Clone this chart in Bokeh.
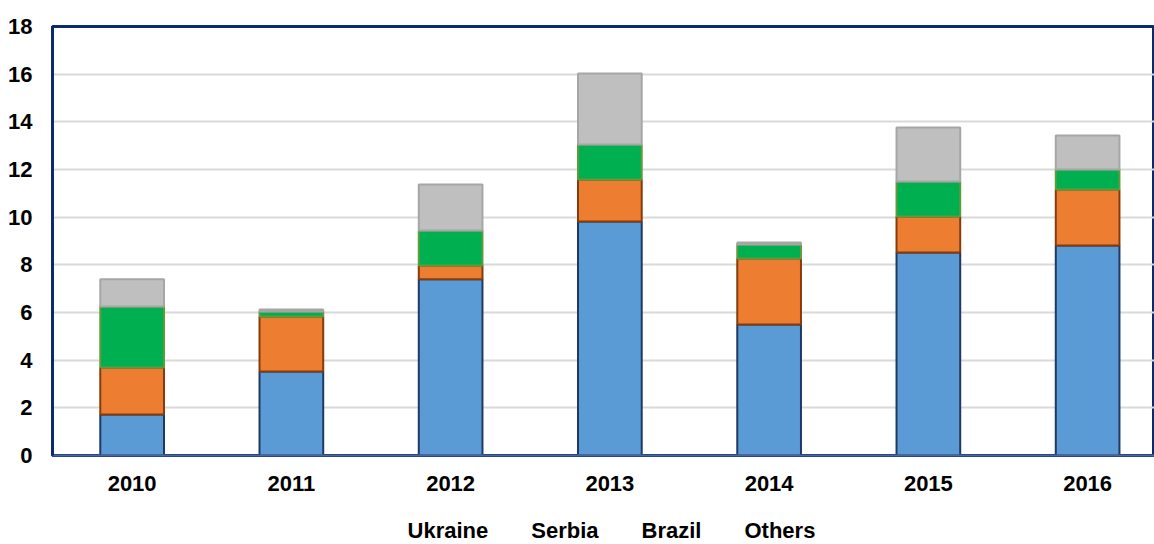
from bokeh.plotting import figure
from bokeh.layouts import column
from bokeh.models import ColumnDataSource, Legend, FixedTicker, Range1d
from bokeh.embed import file_html
from bokeh.resources import INLINE

years = ["2010", "2011", "2012", "2013", "2014", "2015", "2016"]
ukraine = [1.72, 3.52, 7.39, 9.82, 5.50, 8.52, 8.81]
serbia = [1.97, 2.31, 0.58, 1.76, 2.77, 1.51, 2.35]
brazil = [2.56, 0.21, 1.47, 1.47, 0.58, 1.47, 0.84]
others = [1.14, 0.09, 1.93, 2.98, 0.09, 2.26, 1.43]
series = ["Ukraine", "Serbia", "Brazil", "Others"]
y_ticks = [0, 2, 4, 6, 8, 10, 12, 14, 16, 18]

xpos = list(range(len(years)))
src = ColumnDataSource(dict(x=xpos, Ukraine=ukraine, Serbia=serbia, Brazil=brazil, Others=others))

fill = ["#5B9BD5", "#ED7D31", "#00B050", "#BFBFBF"]
line = ["#1F3864", "#843C0C", "#5E9B3C", "#A6A6A6"]

p = figure(width=1154, height=509, output_backend="svg", toolbar_location=None,
           min_border_left=52, min_border_right=0, min_border_top=26, min_border_bottom=54)
p.x_range = Range1d(-0.5, 6.42)
p.y_range = Range1d(0, 18)

r = p.vbar_stack(series, x="x", width=0.40, source=src, fill_color=fill, line_color=line, line_width=2)

font = "Liberation Sans"
p.xaxis.ticker = FixedTicker(ticks=xpos)
p.xaxis.major_label_overrides = {i: y for i, y in enumerate(years)}
p.yaxis.ticker = FixedTicker(ticks=y_ticks)
for ax in (p.xaxis[0], p.yaxis[0]):
    ax.major_label_text_font = font
    ax.major_label_text_font_style = "bold"
    ax.major_label_text_font_size = "22px"
    ax.major_label_text_color = "#000000"
    ax.major_tick_line_color = None
    ax.minor_tick_line_color = None
    ax.major_tick_out = 0
    ax.major_tick_in = 0
p.yaxis.axis_line_color = "#0B2A6B"
p.yaxis.axis_line_width = 3
p.xaxis.axis_line_color = "#4A66A0"
p.xaxis.axis_line_width = 2
p.yaxis.major_label_standoff = 20
p.xaxis.major_label_standoff = 20

p.xgrid.grid_line_color = None
p.ygrid.grid_line_color = "#D9D9D9"
p.ygrid.grid_line_width = 2
p.outline_line_color = "#0B2A6B"
p.outline_line_width = 3

# Legend strip below the chart
f2 = figure(width=1154, height=35, output_backend="svg", toolbar_location=None,
            min_border_left=0, min_border_right=0, min_border_top=0, min_border_bottom=0,
            x_range=Range1d(0, 1), y_range=Range1d(0, 1))
f2.axis.visible = False
f2.grid.grid_line_color = None
f2.outline_line_color = None
dummy = []
for fc, lc in zip(fill, line):
    dummy.append(f2.vbar(x=[], top=[], width=0.4, fill_color=fc, line_color=lc, line_width=2))

legend = Legend(items=[(s, [rr]) for s, rr in zip(series, dummy)], orientation="horizontal",
                location="bottom_center", label_text_font=font, label_text_font_style="bold",
                label_text_font_size="22px", label_text_color="#000000",
                glyph_width=13, glyph_height=13, spacing=26, label_standoff=4,
                border_line_color=None, background_fill_alpha=0, margin=0, padding=1)
f2.add_layout(legend, "center")

layout = column(p, f2, spacing=0)
open("out.html", "w").write(file_html(layout, INLINE))
